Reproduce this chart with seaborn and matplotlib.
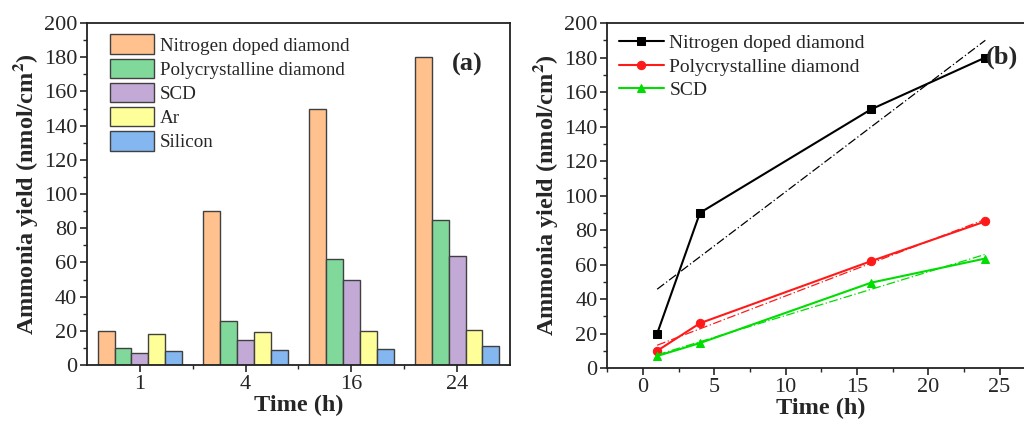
import numpy as np
import pandas as pd
import seaborn as sns
import matplotlib.pyplot as plt
from matplotlib.ticker import MultipleLocator, FixedLocator

# data
time_labels = ['1', '4', '16', '24']
hours = [1, 4, 16, 24]
nitrogen = [20, 90, 150, 180]
poly = [10, 26, 62, 85]
scd = [7, 14.5, 49.5, 63.5]
argon = [18, 19.5, 20, 20.5]
silicon = [8, 9, 9.5, 11]

bar_names = ['Nitrogen doped diamond', 'Polycrystalline diamond', 'SCD', 'Ar', 'Silicon']
bar_colors = ['#FFC28E', '#80D99B', '#C3AAD6', '#FFFF99', '#84B6F0']
line_names = ['Nitrogen doped diamond', 'Polycrystalline diamond', 'SCD']
line_colors = ['black', '#FF1A1A', '#00DD00']
line_markers = ['s', 'o', '^']

sns.set_style('ticks')
plt.rcParams['font.family'] = ['Liberation Serif', 'DejaVu Serif']
plt.rcParams['mathtext.fontset'] = 'stix'
plt.rcParams['font.size'] = 16

bars = pd.DataFrame({
    'Time': time_labels * 5,
    'Yield': nitrogen + poly + scd + argon + silicon,
    'Sample': [n for n in bar_names for _ in time_labels],
})

fig = plt.figure(figsize=(10.24, 4.26), dpi=100)
ax1 = fig.add_axes([0.085, 0.143, 0.413, 0.803])
ax2 = fig.add_axes([0.593, 0.136, 0.418, 0.81])

label_kw = dict(fontweight='bold', fontsize=17.5)

# (a) grouped bars
sns.barplot(data=bars, x='Time', y='Yield', hue='Sample', palette=bar_colors,
            saturation=1, width=0.8, edgecolor='#404040', linewidth=1.0, ax=ax1)
ax1.set_xlim(-0.5, 3.5)
ax1.set_ylim(0, 200)
ax1.yaxis.set_major_locator(MultipleLocator(20))
ax1.yaxis.set_minor_locator(MultipleLocator(10))
ax1.xaxis.set_minor_locator(FixedLocator([0.5, 1.5, 2.5]))
ax1.set_xlabel('Time (h)', labelpad=1, **label_kw)
ax1.set_ylabel('Ammonia yield (nmol/cm$^\\mathbf{2}$)', labelpad=3, **label_kw)
ax1.legend(frameon=False, loc='upper left', bbox_to_anchor=(0.028, 1.0), fontsize=13.7,
           handlelength=2.3, handleheight=1.22, labelspacing=0.2, handletextpad=0.3,
           borderaxespad=0.2)
ax1.text(0.935, 0.88, '(a)', transform=ax1.transAxes, fontsize=19, fontweight='bold',
         ha='right', va='center')

# (b) lines with linear fits
for name, vals, c, m in zip(line_names, [nitrogen, poly, scd], line_colors, line_markers):
    sns.lineplot(x=hours, y=vals, color=c, marker=m, markersize=6, markeredgecolor=c,
                 linewidth=1.5, label=name, ax=ax2)
    sns.regplot(x=hours, y=vals, scatter=False, ci=None, color=c, ax=ax2,
                line_kws={'ls': (0, (7, 2, 1, 2)), 'lw': 0.9})
ax2.set_xlim(-2.5, 27.5)
ax2.set_ylim(0, 200)
ax2.xaxis.set_major_locator(MultipleLocator(5))
ax2.xaxis.set_minor_locator(MultipleLocator(2.5))
ax2.yaxis.set_major_locator(MultipleLocator(20))
ax2.yaxis.set_minor_locator(MultipleLocator(10))
ax2.set_xlabel('Time (h)', labelpad=1, **label_kw)
ax2.set_ylabel('Ammonia yield (nmol/cm$^\\mathbf{2}$)', labelpad=3, **label_kw)
ax2.legend(frameon=False, loc='upper left', bbox_to_anchor=(0.0, 1.0), fontsize=14,
           handlelength=2.3, labelspacing=0.3, handletextpad=0.3, borderaxespad=0.2)
ax2.text(0.885, 0.9, '(b)', transform=ax2.transAxes, fontsize=19, fontweight='bold',
         ha='left', va='center')

for ax in (ax1, ax2):
    for s in ax.spines.values():
        s.set_visible(True)
        s.set_linewidth(1.3)
        s.set_color('#222222')
    ax.tick_params(which='major', direction='out', length=5, width=1.2, labelsize=16, pad=2)
    ax.tick_params(which='minor', direction='out', length=3, width=1.0)
    ax.tick_params(axis='x', which='both', top=False)
    ax.tick_params(axis='y', which='both', right=False)

fig.savefig('out.png', dpi=100)
